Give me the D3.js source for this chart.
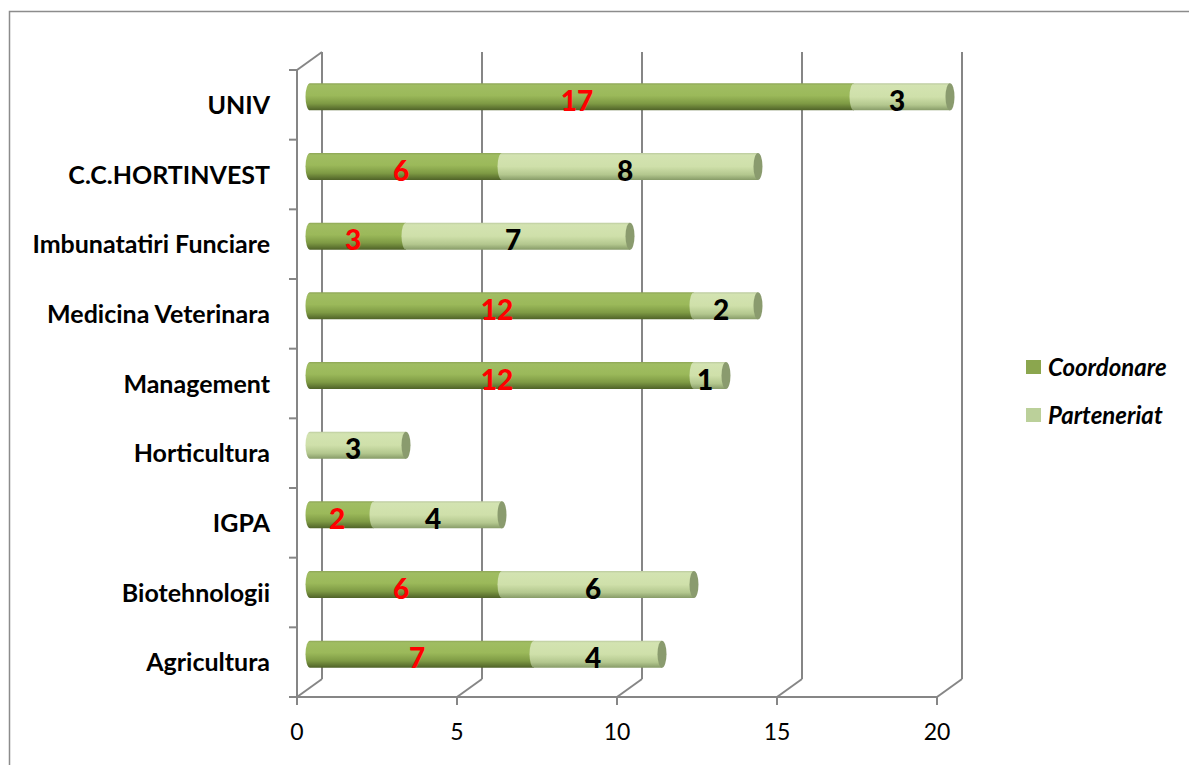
<!DOCTYPE html>
<html><head><meta charset="utf-8">
<script src="https://cdn.jsdelivr.net/npm/d3@7"></script>
<style>body{margin:0;background:#fff}svg{display:block}</style>
</head><body>
<svg id="c" width="1189" height="765"></svg>
<script>
const categories = ["UNIV","C.C.HORTINVEST","Imbunatatiri Funciare","Medicina Veterinara","Management","Horticultura","IGPA","Biotehnologii","Agricultura"];
const coordonare = [17,6,3,12,12,0,2,6,7];
const parteneriat = [3,8,7,2,1,3,4,6,4];
const seriesNames = ["Coordonare","Parteneriat"];
const xTicks = [0,5,10,15,20];

const svg = d3.select("#c");
const gridColor = "#868686";
const font = "Lato, 'Open Sans', sans-serif";

// border
svg.append("rect").attr("x",9.5).attr("y",11.5).attr("width",1300).attr("height",900)
  .attr("fill","none").attr("stroke","#8c8c8c").attr("stroke-width",1.5);

const x = d3.scaleLinear().domain([0,20]).range([297,937]);
const y = d3.scaleBand().domain(categories).range([70,697]);
const dx = 25, dy = -18;
const barOff = 13, labelOff = 8, barShiftY = -8, r = 13.5, rx = 4.5;

const defs = svg.append("defs");
function grad(id, stops){
  const g = defs.append("linearGradient").attr("id",id).attr("x1",0).attr("y1",0).attr("x2",0).attr("y2",1);
  stops.forEach(s=>g.append("stop").attr("offset",s[0]).attr("stop-color",s[1]));
}
grad("gDark",[[0,"#8ea656"],[0.08,"#a0bd62"],[0.45,"#9bb95a"],[0.75,"#7e9a44"],[1,"#4f6228"]]);
grad("gLight",[[0,"#bccb9f"],[0.08,"#d3e3b1"],[0.5,"#cfe0aa"],[0.8,"#b3c78e"],[1,"#879b68"]]);

// back wall gridlines
const grid = svg.append("g").attr("stroke",gridColor).attr("stroke-width",2).attr("fill","none");
xTicks.forEach(t=>{
  grid.append("line").attr("x1",x(t)+dx).attr("x2",x(t)+dx).attr("y1",70+dy).attr("y2",697+dy);
  grid.append("line").attr("x1",x(t)).attr("y1",697).attr("x2",x(t)+dx).attr("y2",697+dy);
});
grid.append("line").attr("x1",x(0)).attr("x2",x(0)).attr("y1",70).attr("y2",697);
grid.append("line").attr("x1",x(0)).attr("y1",70).attr("x2",x(0)+dx).attr("y2",70+dy);
grid.append("line").attr("x1",x(0)).attr("x2",x(20)).attr("y1",697).attr("y2",697);
const bounds = categories.map(c=>y(c)).concat([697]);
bounds.forEach(b=>grid.append("line").attr("x1",x(0)-8).attr("x2",x(0)).attr("y1",b).attr("y2",b));
xTicks.forEach(t=>grid.append("line").attr("x1",x(t)).attr("x2",x(t)).attr("y1",697).attr("y2",705));

// x tick labels
svg.append("g").selectAll("text").data(xTicks).join("text")
  .attr("x",d=>x(d)).attr("y",740).attr("text-anchor","middle")
  .attr("font-family",font).attr("font-size",23).attr("fill","#000").text(d=>d);

// category labels
svg.append("g").selectAll("text").data(categories).join("text")
  .attr("x",270).attr("y",d=>y(d)+y.bandwidth()/2).attr("dy","0.36em").attr("text-anchor","end")
  .attr("font-family",font).attr("font-weight","bold").attr("font-size",25).attr("fill","#000").text(d=>d);

// bars
function segPath(x0,x1,cy){
  return `M${x0},${cy-r}L${x1},${cy-r}L${x1},${cy+r}L${x0},${cy+r}A${rx},${r} 0 0 1 ${x0},${cy-r}Z`;
}
const xb = v => x(v)+barOff;
const xl = v => x(v)+labelOff;
const bars = svg.append("g");
categories.forEach((c,i)=>{
  const cy = y(c)+y.bandwidth()/2+barShiftY;
  const segs = [
    {v0:0, v1:coordonare[i], fill:"url(#gDark)", color:"#ff0000", val:coordonare[i]},
    {v0:coordonare[i], v1:coordonare[i]+parteneriat[i], fill:"url(#gLight)", color:"#000", val:parteneriat[i]}
  ].filter(s=>s.val>0);
  segs.forEach(s=>{
    bars.append("path").attr("d",segPath(xb(s.v0),xb(s.v1),cy)).attr("fill",s.fill);
  });
  const last = segs[segs.length-1];
  bars.append("ellipse").attr("cx",xb(last.v1)).attr("cy",cy).attr("rx",rx).attr("ry",r)
    .attr("fill",last.fill==="url(#gDark)"?"#6f8a3e":"#8a9b6e");
  segs.forEach(s=>{
    bars.append("text").attr("x",(xl(s.v0)+xl(s.v1))/2).attr("y",cy+4).attr("dy","0.36em")
      .attr("text-anchor","middle").attr("font-family",font).attr("font-weight","900")
      .attr("font-size",28).attr("fill",s.color).text(s.val);
  });
});

// legend
const legColors = ["#8ba64e","#bbd09a"];
const leg = svg.append("g");
seriesNames.forEach((n,i)=>{
  const ly = 367 + i*48;
  leg.append("rect").attr("x",1026).attr("y",ly-7).attr("width",15).attr("height",14).attr("fill",legColors[i]);
  leg.append("text").attr("x",1048).attr("y",ly).attr("dy","0.36em").attr("font-family",font)
    .attr("font-weight","bold").attr("font-style","italic").attr("font-size",24).attr("fill","#000").text(n);
});
</script>
</body></html>
